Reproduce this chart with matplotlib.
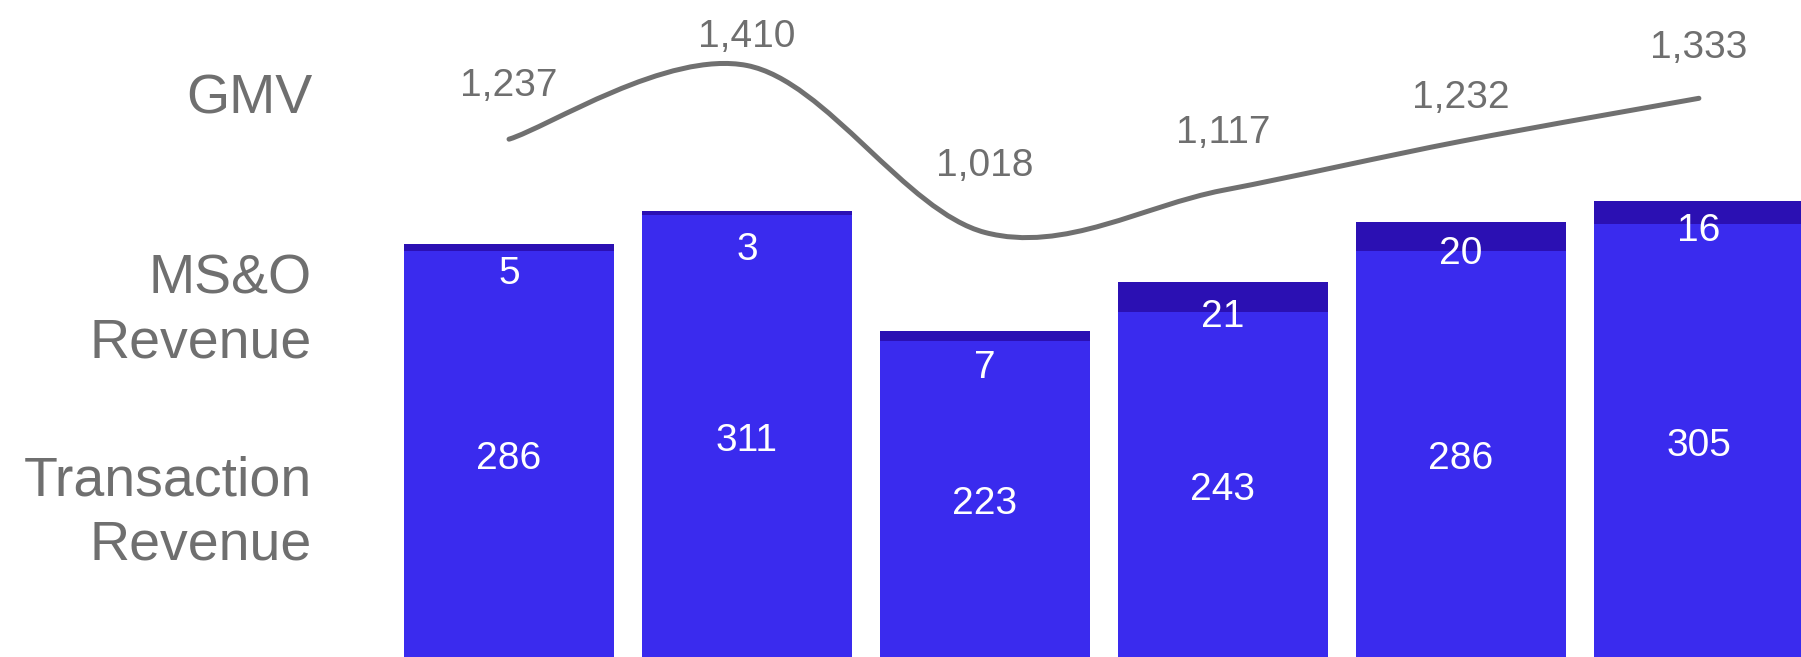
import numpy as np
import matplotlib.pyplot as plt
from matplotlib.path import Path
from matplotlib.patches import PathPatch

plt.rcParams['font.family'] = ['Liberation Sans', 'DejaVu Sans']

# data
periods = ['P1', 'P2', 'P3', 'P4', 'P5', 'P6']
transaction_rev = [286, 311, 223, 243, 286, 305]
ms_rev = [5, 3, 7, 21, 20, 16]
gmv = [1237, 1410, 1018, 1117, 1232, 1333]
row_labels = ['GMV', 'MS&O\nRevenue', 'Transaction\nRevenue']

# layout (pixel offsets of labels)
gmv_label_dy = [57, 33, 70, 61, 47, 54]
ms_label_dy = [26, 35, 33, 31, 28, 26]

GRAY = '#6f6f6f'
BLUE = '#3a2bee'
DARK = '#2b10b3'

fig = plt.figure(figsize=(18.01, 6.57), dpi=100)
ax = fig.add_axes([0, 0, 1, 1])
ax.axis('off')

x = np.arange(len(periods))
ax.set_xlim(-2.139, 5.429)
ax.set_ylim(1.82, 461.7)

ax.bar(x, transaction_rev, width=0.882, color=BLUE, linewidth=0)
ax.bar(x, ms_rev, bottom=transaction_rev, width=0.882, color=DARK, linewidth=0)

for i in x:
    t, m = transaction_rev[i], ms_rev[i]
    ax.text(i, t / 2, f'{t}', ha='center', va='center_baseline',
            fontsize=28, color='white')
    ax.annotate(f'{m}', (i, t + m), xytext=(0, -ms_label_dy[i]),
                textcoords='offset pixels', ha='center', va='center_baseline',
                fontsize=28, color='white')

# GMV line on its own scale
ax2 = ax.twinx()
ax2.axis('off')
ax2.set_ylim(21.2, 1563.8)

# smooth curve through the points (Catmull-Rom as cubic Beziers)
pts = np.column_stack([x, gmv]).astype(float)
ext = np.vstack([pts[0], pts, pts[-1]])
verts = [tuple(pts[0])]
codes = [Path.MOVETO]
for k in range(len(pts) - 1):
    p0, p1, p2, p3 = ext[k], ext[k + 1], ext[k + 2], ext[k + 3]
    verts += [tuple(p1 + (p2 - p0) / 6), tuple(p2 - (p3 - p1) / 6), tuple(p2)]
    codes += [Path.CURVE4] * 3
ax2.add_patch(PathPatch(Path(verts, codes), fill=False, edgecolor='#707070',
                        linewidth=3.6, capstyle='round', joinstyle='round'))

for i in x:
    ax2.annotate(f'{gmv[i]:,}', (i, gmv[i]), xytext=(0, gmv_label_dy[i]),
                 textcoords='offset pixels', ha='center', va='center_baseline',
                 fontsize=28, color=GRAY)

# row labels on the left (y = baseline of the last line)
fig.text(312 / 1801, 1 - 113 / 657, row_labels[0], ha='right', va='baseline',
         fontsize=40, color=GRAY)
fig.text(312 / 1801, 1 - 357 / 657, row_labels[1], ha='right', va='baseline',
         fontsize=40, color=GRAY, linespacing=1.3, multialignment='right')
fig.text(312 / 1801, 1 - 560 / 657, row_labels[2], ha='right', va='baseline',
         fontsize=40, color=GRAY, linespacing=1.3, multialignment='right')

fig.savefig('out.png', dpi=100)
